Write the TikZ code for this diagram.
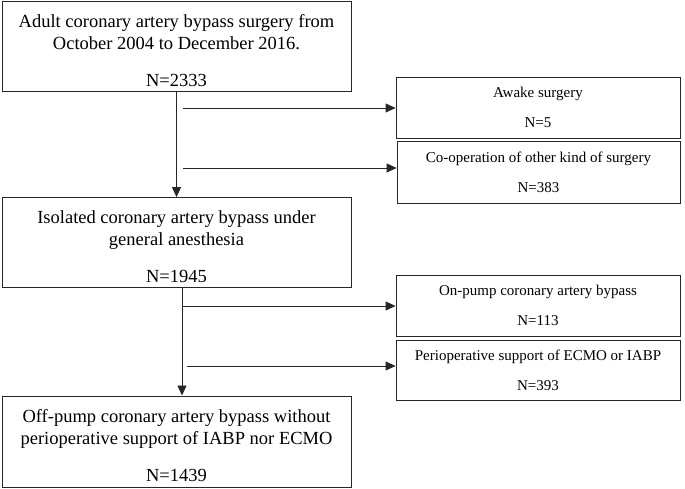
\documentclass[tikz,border=0pt]{standalone}
\usepackage{fontspec}
\setmainfont{Liberation Serif}
\usetikzlibrary{arrows.meta}
\newcommand{\topstrut}{\rule{0pt}{21pt}}
\begin{document}
\begin{tikzpicture}[x=1pt,y=-1pt,
  mainbox/.style={draw=black!85, line width=0.8pt, minimum width=349pt, minimum height=90pt, align=center, inner sep=0pt,
    font=\fontsize{18.5}{22}\selectfont},
  sidebox/.style={draw=black!85, line width=0.8pt, minimum width=284pt, minimum height=61pt, align=center, inner sep=0pt,
    font=\fontsize{15}{17}\selectfont},
  link/.style={line width=0.8pt, draw=black!85},
  arr/.style={link, -{Triangle[length=10pt,width=9pt]}}]
\useasboundingbox (0,0) rectangle (685,489);
\node[mainbox] (b1) at (176.5,46.5) {\topstrut Adult coronary artery bypass surgery from\\October 2004 to December 2016.\\[15pt]N=2333};
\node[mainbox] (b2) at (176.5,242.5) {\topstrut Isolated coronary artery bypass under\\general anesthesia\\[15pt]N=1945};
\node[mainbox, minimum height=91pt] (b3) at (176.5,441.5) {\topstrut Off-pump coronary artery bypass without\\perioperative support of IABP nor ECMO\\[15pt]N=1439};
\node[sidebox] (s1) at (538,107.5) {Awake surgery\\[13pt]N=5};
\node[sidebox, minimum width=283pt, minimum height=62pt] (s2) at (538.5,172) {Co-operation of other kind of surgery\\[13pt]N=383};
\node[sidebox] (s3) at (538,305.5) {On-pump coronary artery bypass\\[13pt]N=113};
\node[sidebox, minimum height=60pt] (s4) at (538,370) {Perioperative support of ECMO or IABP\\[13pt]N=393};
% vertical flows
\draw[arr] (b1.south) -- (b2.north);
\coordinate (v2a) at (182,288);
\coordinate (v2b) at (182,395.5);
\draw[arr] (v2a) -- (v2b);
% exclusion arrows
\coordinate (e1) at (183,108);
\coordinate (e2) at (183,168);
\coordinate (e3) at (182,306);
\coordinate (e4) at (187,366);
\draw[arr] (e1) -- (e1 -| s1.west);
\draw[arr] (e2) -- (e2 -| s2.west);
\draw[arr] (e3) -- (e3 -| s3.west);
\draw[arr] (e4) -- (e4 -| s4.west);
\end{tikzpicture}
\end{document}
